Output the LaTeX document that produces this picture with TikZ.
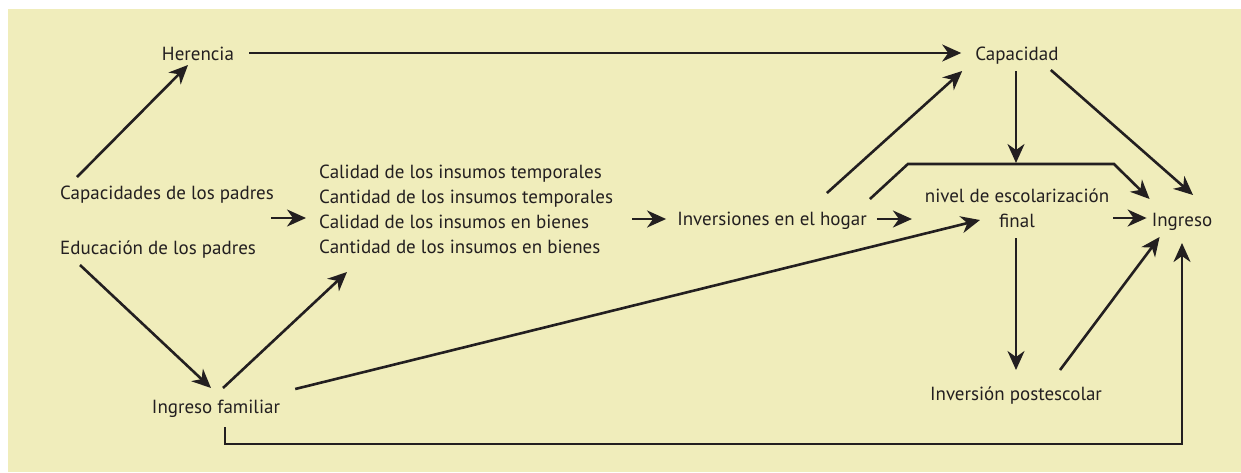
\documentclass[tikz,border=0pt]{standalone}
\usepackage{fontspec}
\setmainfont{PT Sans}
\usetikzlibrary{arrows.meta}
\definecolor{ink}{HTML}{231F20}
\definecolor{paper}{HTML}{F0EDBB}
\begin{document}
\begin{tikzpicture}[x=1pt,y=-1pt,
    every node/.style={inner sep=0pt,text=ink,font=\fontsize{19}{25}\selectfont}]
      \useasboundingbox (0,0) rectangle (1241,472);
      \fill[paper] (8,9) rectangle (1241,472);
      \draw
        (198,60) node[anchor=base] (0){Herencia}
        (1017,60) node[anchor=base] (1){Capacidad}
        (60,199) node[anchor=base west] (2){Capacidades de los padres}
        (60,254) node[anchor=base west] (3){Educación de los padres}
        (319,253) node[anchor=base west,align=left] (4){Calidad de los insumos temporales\\Cantidad de los insumos temporales\\Calidad de los insumos en bienes\\Cantidad de los insumos en bienes}
        (772,225) node[anchor=base] (5){Inversiones en el hogar}
        (1017,227) node[anchor=base,align=center] (6){nivel de escolarización\\final}
        (1182,226) node[anchor=base] (7){Ingreso}
        (216,413) node[anchor=base] (8){Ingreso familiar}
        (1016,400) node[anchor=base] (9){Inversión postescolar};
      \begin{scope}[ink,line width=2.6pt,-{Stealth[length=19pt,width=17pt,inset=6pt]}]
        \draw ([shift={(15,-7)}]0.base east) to ([shift={(-14,-7)}]1.base west);
        \draw ([shift={(17,-22)}]2.base west) to ([shift={(-10,5)}]0.base);
        \draw ([shift={(-3,19)}]2.base east) to ([shift={(-13,-35)}]4.base west);
        \draw ([shift={(20,11)}]3.base west) to ([shift={(-5,-25)}]8.base);
        \draw ([shift={(7,-25)}]8.base) to ([shift={(28,19)}]4.base west);
        \draw ([shift={(15,-24)}]8.base east) to ([shift={(-37,-7)}]6.base);
        \draw ([shift={(9,14)}]8.base) -- ++(0,17) -| ([shift={(0,17)}]7.base);
        \draw ([shift={(-45,-6)}]5.base west) to ([shift={(-11,-6)}]5.base west);
        \draw ([shift={(-40,-32)}]5.base east) to ([shift={(-13,11)}]1.base west);
        \draw ([shift={(10,-6)}]5.base east) to ([shift={(45,-6)}]5.base east);
        \draw ([shift={(3,-26)}]5.base east) -- ++(38,-35) -- ++(206,0) -- ([shift={(-2,-27)}]7.base west);
        \draw ([shift={(-1,11)}]1.base) to ([shift={(-1,-64)}]6.base);
        \draw ([shift={(-8,10)}]1.base east) to ([shift={(11,-31)}]7.base);
        \draw ([shift={(4,-9)}]6.base east) to ([shift={(-5,-8)}]7.base west);
        \draw ([shift={(-1,11)}]6.base) to ([shift={(0,-30)}]9.base);
        \draw ([shift={(44,-30)}]9.base) to ([shift={(8,11)}]7.base west);
      \end{scope}
    \end{tikzpicture}
\end{document}
